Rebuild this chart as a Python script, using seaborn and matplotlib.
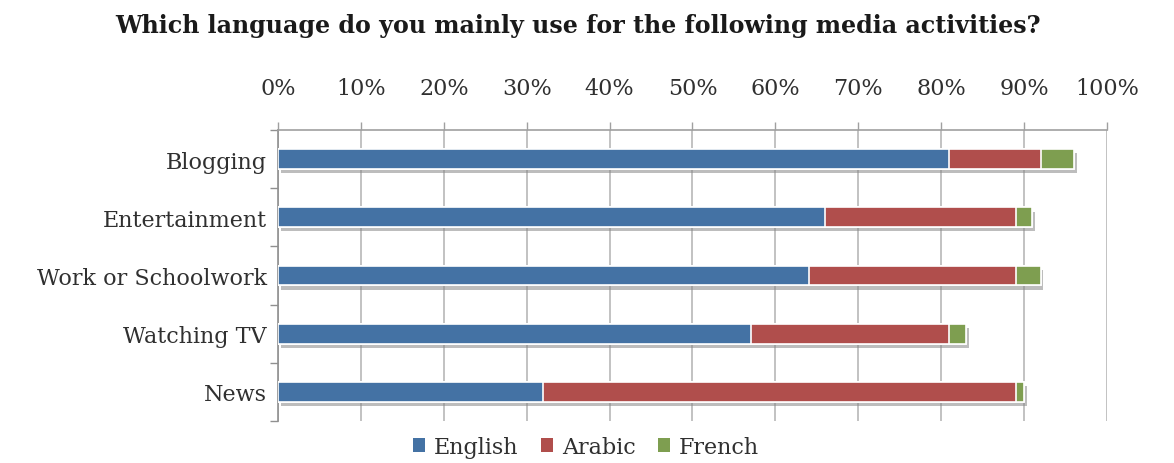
import matplotlib
matplotlib.use("Agg")
import matplotlib.pyplot as plt
import matplotlib.patheffects as pe
from matplotlib.patches import Patch
from matplotlib.ticker import FixedLocator, PercentFormatter
import numpy as np
import pandas as pd
import seaborn as sns

# Survey shares (%) by activity and language
activities = ["Blogging", "Entertainment", "Work or Schoolwork", "Watching TV", "News"]
english = [81, 66, 64, 57, 32]
arabic = [11, 23, 25, 24, 57]
french = [4, 2, 3, 2, 1]
languages = ["English", "Arabic", "French"]
colors = {"English": "#4472A4", "Arabic": "#B04E4C", "French": "#7E9E50"}
x_ticks = list(range(0, 101, 10))

sns.set_theme(style="white")
plt.rcParams["font.family"] = ["DejaVu Serif"]

df = pd.DataFrame({"activity": activities, "English": english,
                   "Arabic": arabic, "French": french})
# Cumulative ends so each language is drawn as a stacked segment
df["end_French"] = df["English"] + df["Arabic"] + df["French"]
df["end_Arabic"] = df["English"] + df["Arabic"]
df["end_English"] = df["English"]

fig = plt.figure(figsize=(11.74, 4.64), dpi=100)
ax = fig.add_axes([0.2368, 0.0905, 0.7061, 0.6272])

for i, lang in enumerate(["French", "Arabic", "English"]):
    sns.barplot(data=df, x=f"end_{lang}", y="activity", order=activities,
                orient="y", color=colors[lang], width=0.34, saturation=1,
                edgecolor="white", linewidth=1.2, ax=ax, zorder=3 + i)
    if i == 0:
        for bar in ax.containers[-1]:
            bar.set_path_effects([pe.withSimplePatchShadow(offset=(2, -3),
                                  shadow_rgbFace="#888888", alpha=0.55),
                                  pe.Normal()])

ax.set_xlim(0, 100)
ax.set_ylim(4.5, -0.5)
ax.xaxis.set_major_locator(FixedLocator(x_ticks))
ax.xaxis.set_major_formatter(PercentFormatter(decimals=0))
ax.xaxis.tick_top()
ax.tick_params(axis="x", which="major", direction="out", length=6, width=1,
               color="#A0A0A0", pad=16.5, labelsize=16, labelcolor="#303030")
ax.tick_params(axis="y", which="major", length=0, pad=8, labelsize=16,
               labelcolor="#303030")
ax.yaxis.set_minor_locator(FixedLocator(np.arange(-0.5, 5, 1)))
ax.tick_params(axis="y", which="minor", direction="out", length=6, width=1,
               color="#909090", left=True)
ax.grid(axis="x", color="#B8B8B8", linewidth=1.2, zorder=0)
ax.set_axisbelow(True)
ax.set_xlabel("")
ax.set_ylabel("")

for side in ["right", "bottom"]:
    ax.spines[side].set_visible(False)
ax.spines["top"].set_color("#A0A0A0")
ax.spines["top"].set_linewidth(1.2)
ax.spines["left"].set_color("#909090")
ax.spines["left"].set_linewidth(1.2)

fig.text(0.492, 0.944, "Which language do you mainly use for the following media activities?",
         ha="center", va="center", fontsize=17.1, fontweight="bold", color="#1a1a1a")

handles = [Patch(facecolor=colors[l], edgecolor="none", label=l) for l in languages]
fig.legend(handles=handles, loc="center", bbox_to_anchor=(0.499, 0.035),
           ncol=3, frameon=False, fontsize=16, handlelength=0.55, handleheight=0.55,
           handletextpad=0.4, columnspacing=1.0, labelcolor="#303030")

fig.savefig("out.png", dpi=100, facecolor="white")
